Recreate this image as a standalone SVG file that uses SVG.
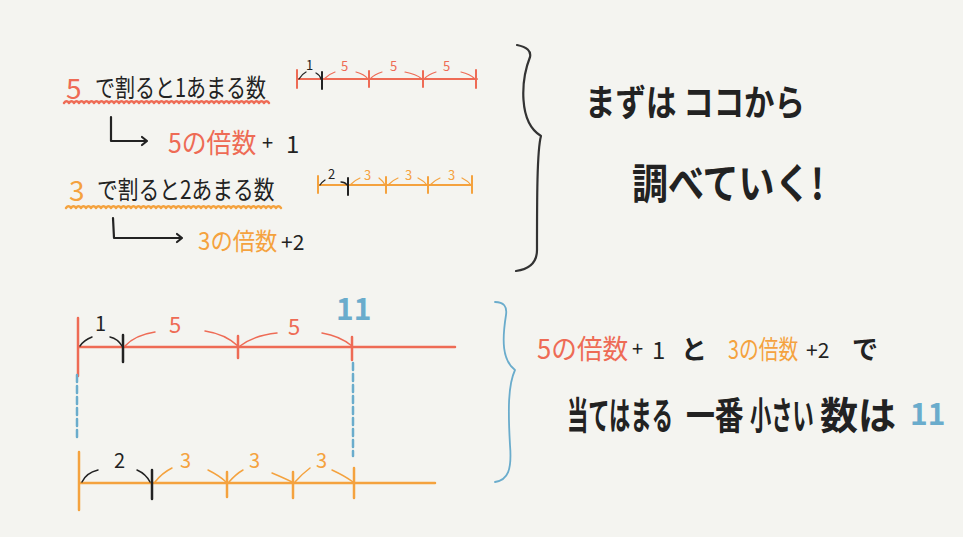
<svg xmlns="http://www.w3.org/2000/svg" width="963" height="537" viewBox="0 0 963 537">
<defs>
<style>
text{font-family:"Noto Sans CJK JP","Noto Sans",sans-serif;}
.k{fill:#222;}
.r{fill:#ee6b55;}
.o{fill:#f4a23e;}
.b{fill:#6aaccc;}
.ln{fill:none;stroke-linecap:round;stroke-linejoin:round;}
.sr{stroke:#ee6b55;}
.so{stroke:#f4a23e;}
.sk{stroke:#222;}
.sb{stroke:#6aaccc;}
</style>
</defs>
<rect width="963" height="537" fill="#f4f4f0"/>

<g id="top-left-text">
<text x="66" y="99" font-size="28" class="r">5</text>
<text transform="translate(95,97) scale(0.8,1)" font-size="25" class="k">で割ると1あまる数</text>
<path class="ln sr" stroke-width="2.4" d="M64,103 q2.5,-3.5 5,0 q2.5,-3.5 5,0 q2.5,-3.5 5,0 q2.5,-3.5 5,0 q2.5,-3.5 5,0 q2.5,-3.5 5,0 q2.5,-3.5 5,0 q2.5,-3.5 5,0 q2.5,-3.5 5,0 q2.5,-3.5 5,0 q2.5,-3.5 5,0 q2.5,-3.5 5,0 q2.5,-3.5 5,0 q2.5,-3.5 5,0 q2.5,-3.5 5,0 q2.5,-3.5 5,0 q2.5,-3.5 5,0 q2.5,-3.5 5,0 q2.5,-3.5 5,0 q2.5,-3.5 5,0 q2.5,-3.5 5,0 q2.5,-3.5 5,0 q2.5,-3.5 5,0 q2.5,-3.5 5,0 q2.5,-3.5 5,0 q2.5,-3.5 5,0 q2.5,-3.5 5,0 q2.5,-3.5 5,0 q2.5,-3.5 5,0 q2.5,-3.5 5,0 q2.5,-3.5 5,0 q2.5,-3.5 5,0 q2.5,-3.5 5,0 q2.5,-3.5 5,0 q2.5,-3.5 5,0 q2.5,-3.5 5,0 q2.5,-3.5 5,0 q2.5,-3.5 5,0 q2.5,-3.5 5,0 q2.5,-3.5 5,0 q2.5,-3.5 5,0"/>
<text transform="translate(168,153) scale(0.92,1)" font-size="27" class="r">5の倍数</text>
<text x="262" y="150" font-size="20" class="k">+</text>
<text x="286" y="153" font-size="24" class="k">1</text>

<text x="69" y="201" font-size="28" class="o">3</text>
<text transform="translate(97,199) scale(0.83,1)" font-size="25" class="k">で割ると2あまる数</text>
<path class="ln so" stroke-width="2.4" d="M66,208 q2.5,-3.5 5,0 q2.5,-3.5 5,0 q2.5,-3.5 5,0 q2.5,-3.5 5,0 q2.5,-3.5 5,0 q2.5,-3.5 5,0 q2.5,-3.5 5,0 q2.5,-3.5 5,0 q2.5,-3.5 5,0 q2.5,-3.5 5,0 q2.5,-3.5 5,0 q2.5,-3.5 5,0 q2.5,-3.5 5,0 q2.5,-3.5 5,0 q2.5,-3.5 5,0 q2.5,-3.5 5,0 q2.5,-3.5 5,0 q2.5,-3.5 5,0 q2.5,-3.5 5,0 q2.5,-3.5 5,0 q2.5,-3.5 5,0 q2.5,-3.5 5,0 q2.5,-3.5 5,0 q2.5,-3.5 5,0 q2.5,-3.5 5,0 q2.5,-3.5 5,0 q2.5,-3.5 5,0 q2.5,-3.5 5,0 q2.5,-3.5 5,0 q2.5,-3.5 5,0 q2.5,-3.5 5,0 q2.5,-3.5 5,0 q2.5,-3.5 5,0 q2.5,-3.5 5,0 q2.5,-3.5 5,0 q2.5,-3.5 5,0 q2.5,-3.5 5,0 q2.5,-3.5 5,0 q2.5,-3.5 5,0 q2.5,-3.5 5,0 q2.5,-3.5 5,0 q2.5,-3.5 5,0 q2.5,-3.5 5,0"/>
<text transform="translate(198,250) scale(0.93,1)" font-size="24" class="o">3の倍数</text>
<text x="281" y="250" font-size="21" class="k">+2</text>
</g>

<g id="top-numberlines">
<path class="ln sr" stroke-width="2" d="M297,79 H477 M297,70 V88 M369,71 V87 M423,71 V87 M476,70 V88"/>
<path class="ln sk" stroke-width="2" d="M322,72 V89"/>
<path class="ln sk" stroke-width="1.3" d="M299,79 Q302,74 306,72 M316,73 Q320,75 321,79"/>
<path class="ln sr" stroke-width="1.2" d="M324,79 Q329,74 335,72 M356,72 Q364,74 368,79 M370,79 Q375,74 382,72 M405,72 Q416,74 422,79 M424,79 Q429,74 436,72 M461,72 Q470,74 475,79"/>
<text x="306" y="70" font-size="13" class="k">1</text>
<text x="341" y="71" font-size="13" class="r">5</text>
<text x="390" y="71" font-size="13" class="r">5</text>
<text x="443" y="71" font-size="13" class="r">5</text>

<path class="ln so" stroke-width="2" d="M318,185 H472 M318,176 V193 M386,177 V193 M428,177 V193 M472,176 V193"/>
<path class="ln sk" stroke-width="2" d="M348,178 V195"/>
<path class="ln sk" stroke-width="1.3" d="M320,185 Q322,182 325,180 M341,182 Q345,182 347,185"/>
<text x="328" y="179" font-size="13" class="k">2</text>
<path class="ln so" stroke-width="1.2" d="M350,185 Q355,180 360,178 M379,178 Q383,181 385,185 M388,185 Q393,180 398,178 M418,178 Q424,181 427,185 M430,185 Q435,180 440,178 M462,178 Q468,181 471,185"/>
<text x="364" y="180" font-size="13" class="o">3</text>
<text x="405" y="180" font-size="13" class="o">3</text>
<text x="448" y="180" font-size="13" class="o">3</text>
</g>

<g id="top-right-text">
<text x="585" y="116" font-size="36" font-weight="bold" class="k" textLength="220" lengthAdjust="spacingAndGlyphs">まずは ココから</text>
<text x="632" y="199" font-size="42" font-weight="bold" class="k" textLength="192" lengthAdjust="spacingAndGlyphs">調べていく!</text>
</g>

<g id="bottom-numberlines">
<path class="ln sr" stroke-width="2.5" d="M78,347 H455 M78,318 V376 M238,336 V358 M352,337 V360"/>
<path class="ln sk" stroke-width="2.5" d="M123,335 V362"/>
<path class="ln sk" stroke-width="1.5" d="M80,346 Q84,340 92,337 M110,337 Q118,339 122,346"/>
<path class="ln sr" stroke-width="1.5" d="M125,346 Q135,335 155,332 M205,331 Q225,334 238,346 M240,346 Q255,335 277,333 M322,333 Q340,336 352,346"/>
<text x="95" y="331" font-size="20" class="k">1</text>
<text x="169" y="333" font-size="22" class="r">5</text>
<text x="288" y="335" font-size="22" class="r">5</text>
<text x="336" y="320" font-size="30" font-weight="bold" class="b">11</text>

<path class="ln sb" stroke-width="2.5" stroke-dasharray="7,4" d="M77,375 V441 M353,363 V456"/>

<path class="ln so" stroke-width="2.5" d="M79,483 H435 M79,452 V510 M227,472 V497 M293,472 V498 M354,468 V498"/>
<path class="ln sk" stroke-width="2.5" d="M152,470 V499"/>
<path class="ln sk" stroke-width="1.5" d="M82,482 Q86,473 98,470 M137,470 Q146,474 150,482"/>
<path class="ln so" stroke-width="1.5" d="M155,482 Q162,473 172,468 M208,470 Q220,476 226,482 M229,482 Q236,474 243,470 M272,473 Q284,478 292,482 M295,482 Q302,474 310,468 M332,470 Q345,476 353,482"/>
<text x="114" y="468" font-size="20" class="k">2</text>
<text x="180" y="468" font-size="20" class="o">3</text>
<text x="249" y="468" font-size="20" class="o">3</text>
<text x="316" y="468" font-size="20" class="o">3</text>
</g>

<g id="bottom-right-text">
<text transform="translate(537,359) scale(0.95,1)" font-size="27" class="r">5の倍数</text>
<text x="632" y="356" font-size="20" class="k">+</text>
<text x="652" y="359" font-size="24" class="k">1</text>
<text x="681" y="359" font-size="26" font-weight="bold" class="k">と</text>
<text transform="translate(728,359) scale(0.76,1)" font-size="26" class="o">3の倍数</text>
<text x="806" y="358" font-size="21" class="k">+2</text>
<text x="852" y="359" font-size="26" font-weight="bold" class="k">で</text>
<text transform="translate(567,429) scale(0.56,1)" font-size="38" font-weight="bold" class="k">当てはまる</text>
<text transform="translate(686,429) scale(0.76,1)" font-size="38" font-weight="bold" class="k">一番</text>
<text transform="translate(750,429) scale(0.56,1)" font-size="38" font-weight="bold" class="k">小さい</text>
<text x="820" y="429" font-size="38" font-weight="bold" class="k">数は</text>
<text x="910" y="425" font-size="30" font-weight="bold" class="b">11</text>
</g>

<g id="connectors">
<path class="ln sk" stroke-width="2.2" d="M111,117 V141 H147 M142,137 L147,141 L142,145"/>
<path class="ln sk" stroke-width="2.2" d="M113,218 L114,238 H182 M177,234 L182,238 L177,242"/>
<path class="ln" stroke="#333" stroke-width="2.2" d="M517,45 Q532,48 530,57 C521,80 518,122 541,136 C537,150 537,200 537,250 Q537,268 516,271"/>
<path class="ln sb" stroke-width="1.8" d="M495,302 Q508,302 506,315 C502,340 502,360 515,370 C508,385 508,410 510,445 C512,470 508,480 495,482"/>
</g>
</svg>
